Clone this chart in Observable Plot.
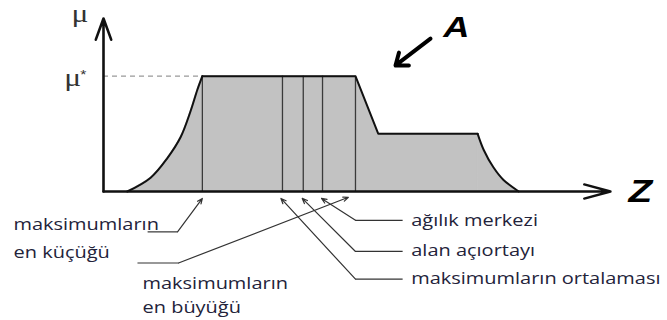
<!DOCTYPE html>
<html><head><meta charset="utf-8">
<script src="https://cdn.jsdelivr.net/npm/d3@7"></script>
<script src="https://cdn.jsdelivr.net/npm/@observablehq/plot@0.6"></script>
<style>body{margin:0;background:#fff}</style>
</head><body><div id="chart"></div>
<script>
// Membership function A(z)
const zValues  = [4.7, 9.3, 12.6, 15.2, 17.2, 18.5, 19.5, 49.7, 54.2, 73.8, 75.0, 76.9, 78.9, 81.9];
const muValues = [0, 0.12, 0.29, 0.47, 0.70, 0.88, 1, 1, 0.5, 0.5, 0.36, 0.21, 0.10, 0];
const muStar = 1;
const muMax = 1.5;
const zMax = 100;
// pieces of the outline: [name, first index, last index, smooth?]
const pieces = [["rise", 0, 6, true], ["top", 6, 9, false], ["tail", 9, 13, true]];

// Defuzzification results (vertical lines)
const methodZ = [19.5, 35.3, 39.4, 43.2, 49.7];

// Label texts
const labelTexts = ["maksimumların", "en küçüğü", "maksimumların", "en büyüğü",
                    "ağılık merkezi", "alan açıortayı", "maksimumların ortalaması"];
const axisTitles = ["μ", "μ", "*", "Z", "A"];

// ---- annotation layout (data coordinates) ----
const labelZ  = [-17.75, -17.75, 7.7, 7.7, 60.7, 60.7, 60.7];
const labelMu = [-0.338, -0.574, -0.843, -1.05, -0.295, -0.555, -0.80];
const leaderTipZ    = [19.5, 48.3, 43.0, 39.2, 35.0];
const leaderTipMu   = [-0.06, -0.05, -0.06, -0.06, -0.06];
const leaderElbowZ  = [14.6, 14.8, 49.7, 49.7, 49.7];
const leaderLevelMu = [-0.35, -0.62, -0.25, -0.52, -0.76];
const leaderEndZ    = [8.7, 6.7, 59.0, 59.0, 59.0];
const titleZ  = [-2.96, -4.4, -4.6, 105.9, 69.6];
const titleMu = [1.466, 0.919, 0.975, -0.095, 1.336];

const shapePieces = pieces.flatMap(([name, a, b, smooth]) =>
  zValues.slice(a, b + 1).map((z, k) => ({piece: name, smooth, z, mu: muValues[a + k]})));
const smoothPts = shapePieces.filter(d => d.smooth);
const flatPts = shapePieces.filter(d => !d.smooth);
const labels = labelTexts.map((t, i) => ({t, z: labelZ[i], mu: labelMu[i]}));
const titles = axisTitles.map((t, i) => ({t, z: titleZ[i], mu: titleMu[i]}));
const leaders = leaderTipZ.map((tz, i) => ({
  tz, tm: leaderTipMu[i], ez: leaderElbowZ[i], lm: leaderLevelMu[i], endz: leaderEndZ[i]
}));

const labelFont = "'Open Sans', sans-serif";
const ink = "#23233a";
const grey = "#c2c2c2";
const pos = {x1: "x1", y1: "y1", x2: "x2", y2: "y2"};

const chart = Plot.plot({
  width: 667, height: 320,
  marginLeft: 103, marginRight: 57, marginTop: 18, marginBottom: 129,
  x: {domain: [0, zMax], axis: null},
  y: {domain: [0, muMax], axis: null},
  style: {background: "#fff", overflow: "visible"},
  marks: [
    Plot.areaY(smoothPts, {x: "z", y: "mu", z: "piece", fill: grey, stroke: grey, strokeWidth: 0.8, curve: "catmull-rom"}),
    Plot.areaY(flatPts, {x: "z", y: "mu", fill: grey, stroke: grey, strokeWidth: 0.8}),
    Plot.ruleX(methodZ, {y1: 0, y2: muStar, stroke: "#3a3a3a", strokeWidth: 1.3}),
    Plot.ruleY([muStar], {x1: 0, x2: methodZ[0], stroke: "#999", strokeWidth: 1.2, strokeDasharray: "5,4"}),
    Plot.line(smoothPts, {x: "z", y: "mu", z: "piece", stroke: "#111", strokeWidth: 2, curve: "catmull-rom"}),
    Plot.line(flatPts, {x: "z", y: "mu", stroke: "#111", strokeWidth: 2, strokeLinejoin: "miter"}),
    // axes with arrows
    Plot.arrow([{x1: 0, y1: 0, x2: 0, y2: muMax}], {...pos,
      stroke: "#111", strokeWidth: 2.6, headLength: 13, headAngle: 40}),
    Plot.arrow([{x1: 0, y1: 0, x2: zMax, y2: 0}], {...pos,
      stroke: "#111", strokeWidth: 2.4, headLength: 17, headAngle: 30}),
    // "A" pointer
    Plot.arrow([{x1: 64.5, y1: 1.325, x2: 57.6, y2: 1.093}], {...pos,
      stroke: "#000", strokeWidth: 4, headLength: 5, headAngle: 75}),
    // leader lines
    Plot.link(leaders, {x1: "endz", y1: "lm", x2: "ez", y2: "lm", stroke: "#333", strokeWidth: 1.2}),
    Plot.arrow(leaders, {x1: "ez", y1: "lm", x2: "tz", y2: "tm", stroke: "#333", strokeWidth: 1.2,
      headLength: 7, headAngle: 45}),
    // labels
    Plot.text(labels, {x: "z", y: "mu", text: "t", textAnchor: "start", lineAnchor: "bottom",
      fontSize: 16.5, fontFamily: labelFont, fill: ink}),
    Plot.text(titles.slice(0, 2), {x: "z", y: "mu", text: "t", textAnchor: "end",
      lineAnchor: "bottom", fontSize: 26, fontFamily: "'Liberation Serif', serif", fill: "#333"}),
    Plot.text(titles.slice(2, 3), {x: "z", y: "mu", text: "t", textAnchor: "start",
      lineAnchor: "bottom", fontSize: 13, fontFamily: "'Liberation Sans', sans-serif", fill: "#333"}),
    Plot.text(titles.slice(3), {x: "z", y: "mu", text: "t", textAnchor: "middle",
      lineAnchor: "bottom", fontSize: [32, 30], fontWeight: "bold", fontStyle: "italic",
      fontFamily: "'Liberation Sans', sans-serif", fill: "#000"})
  ]
});
document.getElementById("chart").appendChild(chart);

// the reference picture is horizontally stretched: widen glyphs accordingly
const stretch = 1.21;
chart.querySelectorAll("text").forEach(el => {
  const w = el.getComputedTextLength();
  if (w > 0) {
    el.setAttribute("textLength", (w * stretch).toFixed(1));
    el.setAttribute("lengthAdjust", "spacingAndGlyphs");
  }
});
</script>
</body></html>
